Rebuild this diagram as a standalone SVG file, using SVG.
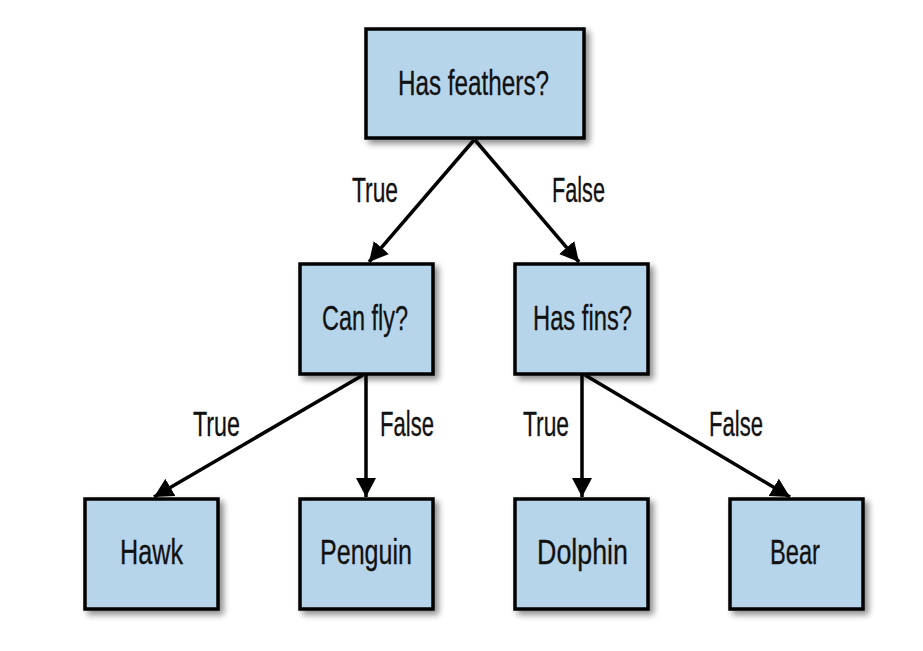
<svg xmlns="http://www.w3.org/2000/svg" width="923" height="651" viewBox="0 0 923 651">
  <defs>
    <filter id="shadow" x="-20%" y="-20%" width="150%" height="150%">
      <feGaussianBlur in="SourceAlpha" stdDeviation="3"/>
      <feOffset dx="4" dy="4" result="blur"/>
      <feComponentTransfer><feFuncA type="linear" slope="0.45"/></feComponentTransfer>
      <feMerge><feMergeNode/><feMergeNode in="SourceGraphic"/></feMerge>
    </filter>
    <marker id="arrow" markerUnits="userSpaceOnUse" markerWidth="19" markerHeight="20" refX="19" refY="10" orient="auto">
      <path d="M0,0 L19,10 L0,20 z" fill="#000"/>
    </marker>
  </defs>
  <style>
    .box { fill: #b6d4ea; stroke: #000; stroke-width: 3.5; filter: url(#shadow); }
    .label, .edge { font-family: "Liberation Sans Narrow", "Liberation Sans", Arial, sans-serif; font-size: 35px; fill: #111; stroke: #111; stroke-width: 0.3; }
    .conn { stroke: #000; stroke-width: 3.5; fill: none; marker-end: url(#arrow); }
  </style>
  <rect width="923" height="651" fill="#fff"/>

  <!-- connectors -->
  <g id="connectors">
    <line class="conn" x1="474" y1="140" x2="369" y2="262"/>
    <line class="conn" x1="475" y1="140" x2="579" y2="262"/>
    <line class="conn" x1="363" y1="375" x2="154" y2="497"/>
    <line class="conn" x1="366" y1="375" x2="366" y2="497"/>
    <line class="conn" x1="582" y1="375" x2="582" y2="497"/>
    <line class="conn" x1="585" y1="375" x2="790" y2="497"/>
    <text class="edge" x="352" y="202" textLength="46" lengthAdjust="spacingAndGlyphs">True</text>
    <text class="edge" x="552" y="202" textLength="53" lengthAdjust="spacingAndGlyphs">False</text>
    <text class="edge" x="193" y="436" textLength="47" lengthAdjust="spacingAndGlyphs">True</text>
    <text class="edge" x="380" y="436" textLength="54" lengthAdjust="spacingAndGlyphs">False</text>
    <text class="edge" x="523" y="436" textLength="46" lengthAdjust="spacingAndGlyphs">True</text>
    <text class="edge" x="709" y="436" textLength="54" lengthAdjust="spacingAndGlyphs">False</text>
  </g>

  <!-- decision nodes -->
  <g id="has-feathers">
    <rect class="box" x="366" y="29" width="218" height="109"/>
    <text class="label" x="398" y="95" textLength="151" lengthAdjust="spacingAndGlyphs">Has feathers?</text>
  </g>
  <g id="can-fly">
    <rect class="box" x="300" y="264" width="133" height="110"/>
    <text class="label" x="322" y="330" textLength="86" lengthAdjust="spacingAndGlyphs">Can fly?</text>
  </g>
  <g id="has-fins">
    <rect class="box" x="515" y="264" width="133" height="110"/>
    <text class="label" x="533" y="330" textLength="99" lengthAdjust="spacingAndGlyphs">Has fins?</text>
  </g>

  <!-- leaf nodes -->
  <g id="hawk">
    <rect class="box" x="85" y="499" width="133" height="110"/>
    <text class="label" x="120" y="564" textLength="63" lengthAdjust="spacingAndGlyphs">Hawk</text>
  </g>
  <g id="penguin">
    <rect class="box" x="300" y="499" width="133" height="110"/>
    <text class="label" x="320" y="564" textLength="92" lengthAdjust="spacingAndGlyphs">Penguin</text>
  </g>
  <g id="dolphin">
    <rect class="box" x="515" y="499" width="133" height="110"/>
    <text class="label" x="537" y="564" textLength="91" lengthAdjust="spacingAndGlyphs">Dolphin</text>
  </g>
  <g id="bear">
    <rect class="box" x="730" y="499" width="133" height="110"/>
    <text class="label" x="770" y="564" textLength="50" lengthAdjust="spacingAndGlyphs">Bear</text>
  </g>
</svg>
